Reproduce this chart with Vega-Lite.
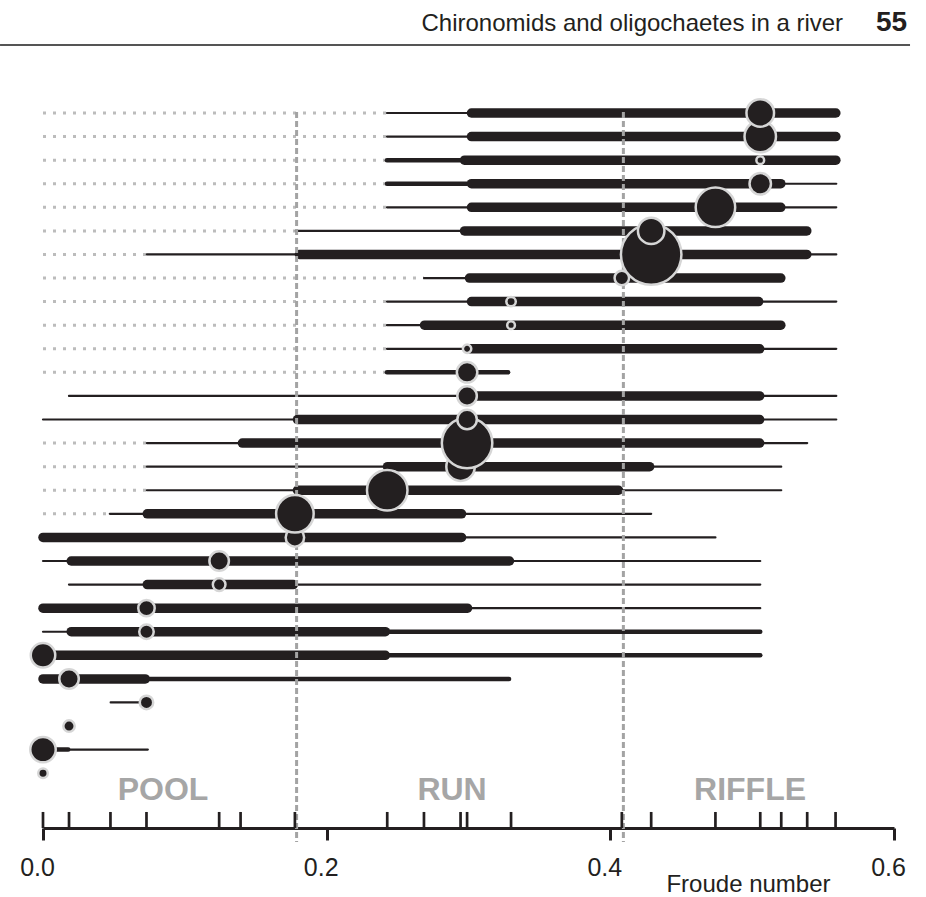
{
  "$schema": "https://vega.github.io/schema/vega-lite/v6.json",
  "width": 851,
  "height": 828,
  "autosize": {"type": "none"},
  "padding": {"left": 43, "right": 32, "top": 0, "bottom": 69},
  "background": "white",
  "config": {"view": {"stroke": null}, "font": "Liberation Sans"},
  "datasets": {
    "segs": [
      {"r":1,"t":"dotted","a":0,"b":0.2425},{"r":1,"t":"thin","a":0.2425,"b":0.2989},{"r":1,"t":"thick","a":0.3021,"b":0.559},
      {"r":2,"t":"dotted","a":0,"b":0.2425},{"r":2,"t":"thin","a":0.2425,"b":0.2989},{"r":2,"t":"thick","a":0.3021,"b":0.559},
      {"r":3,"t":"dotted","a":0,"b":0.2425},{"r":3,"t":"medium","a":0.2425,"b":0.2944},{"r":3,"t":"thick","a":0.2972,"b":0.559},
      {"r":4,"t":"dotted","a":0,"b":0.2425},{"r":4,"t":"medium","a":0.2425,"b":0.2989},{"r":4,"t":"thick","a":0.3021,"b":0.5202},{"r":4,"t":"thin","a":0.5205,"b":0.5593},
      {"r":5,"t":"dotted","a":0,"b":0.2425},{"r":5,"t":"thin","a":0.2425,"b":0.2989},{"r":5,"t":"thick","a":0.3021,"b":0.5202},{"r":5,"t":"thin","a":0.5205,"b":0.5593},
      {"r":6,"t":"dotted","a":0,"b":0.1783},{"r":6,"t":"thin","a":0.1783,"b":0.2944},{"r":6,"t":"thick","a":0.2972,"b":0.5385},
      {"r":7,"t":"dotted","a":0,"b":0.0732},{"r":7,"t":"thin","a":0.0732,"b":0.1776},{"r":7,"t":"thick","a":0.1808,"b":0.5385},{"r":7,"t":"thin","a":0.5388,"b":0.5593},
      {"r":8,"t":"dotted","a":0,"b":0.2686},{"r":8,"t":"thin","a":0.2686,"b":0.2975},{"r":8,"t":"thick","a":0.3007,"b":0.5202},
      {"r":9,"t":"dotted","a":0,"b":0.2425},{"r":9,"t":"thin","a":0.2425,"b":0.2989},{"r":9,"t":"thick","a":0.3021,"b":0.5046},{"r":9,"t":"thin","a":0.5057,"b":0.5593},
      {"r":10,"t":"dotted","a":0,"b":0.2425},{"r":10,"t":"thin","a":0.2425,"b":0.2658},{"r":10,"t":"thick","a":0.269,"b":0.5202},
      {"r":11,"t":"dotted","a":0,"b":0.2425},{"r":11,"t":"thin","a":0.2425,"b":0.2975},{"r":11,"t":"thick","a":0.3007,"b":0.5053},{"r":11,"t":"thin","a":0.5057,"b":0.5593},
      {"r":12,"t":"dotted","a":0,"b":0.2425},{"r":12,"t":"medium","a":0.2425,"b":0.3279},
      {"r":13,"t":"thin","a":0.0183,"b":0.2975},{"r":13,"t":"thick","a":0.3007,"b":0.5053},{"r":13,"t":"thin","a":0.5057,"b":0.5593},
      {"r":14,"t":"thin","a":0,"b":0.1762},{"r":14,"t":"thick","a":0.1794,"b":0.5053},{"r":14,"t":"thin","a":0.5057,"b":0.5593},
      {"r":15,"t":"dotted","a":0,"b":0.0732},{"r":15,"t":"thin","a":0.0732,"b":0.1374},{"r":15,"t":"thick","a":0.1406,"b":0.5053},{"r":15,"t":"thin","a":0.5057,"b":0.5388},
      {"r":16,"t":"dotted","a":0,"b":0.0732},{"r":16,"t":"thin","a":0.0732,"b":0.2397},{"r":16,"t":"thick","a":0.2429,"b":0.4277},{"r":16,"t":"thin","a":0.4288,"b":0.5205},
      {"r":17,"t":"dotted","a":0,"b":0.0732},{"r":17,"t":"thin","a":0.0732,"b":0.1762},{"r":17,"t":"thick","a":0.1794,"b":0.4058},{"r":17,"t":"thin","a":0.4081,"b":0.5205},
      {"r":18,"t":"dotted","a":0,"b":0.0471},{"r":18,"t":"thin","a":0.0471,"b":0.0703},{"r":18,"t":"thick","a":0.0735,"b":0.2951},{"r":18,"t":"thin","a":0.2951,"b":0.4288},
      {"r":19,"t":"thick","a":0,"b":0.2951},{"r":19,"t":"thin","a":0.2951,"b":0.4741},
      {"r":20,"t":"thin","a":0,"b":0.0167},{"r":20,"t":"thick","a":0.0199,"b":0.3289},{"r":20,"t":"thin","a":0.3289,"b":0.5057},
      {"r":21,"t":"thin","a":0.0183,"b":0.0703},{"r":21,"t":"thick","a":0.0735,"b":0.1765},{"r":21,"t":"thin","a":0.1765,"b":0.5057},
      {"r":22,"t":"thick","a":0,"b":0.2993},{"r":22,"t":"thin","a":0.2993,"b":0.5057},
      {"r":23,"t":"thin","a":0,"b":0.0167},{"r":23,"t":"thick","a":0.0199,"b":0.2414},{"r":23,"t":"medium","a":0.2414,"b":0.5057},
      {"r":24,"t":"thick","a":0,"b":0.2414},{"r":24,"t":"medium","a":0.2414,"b":0.5057},
      {"r":25,"t":"thick","a":0,"b":0.0721},{"r":25,"t":"medium","a":0.0721,"b":0.3286},
      {"r":26,"t":"thin","a":0.0477,"b":0.0727},
      {"r":28,"t":"medium","a":0,"b":0.0178},{"r":28,"t":"thin","a":0.0178,"b":0.0739}
    ],
    "circles": [
      {"r":29,"x":0,"n":9},{"r":28,"x":0,"n":65},{"r":27,"x":0.01835,"n":13},{"r":26,"x":0.07296,"n":18},
      {"r":25,"x":0.01835,"n":38},{"r":24,"x":0,"n":60},{"r":23,"x":0.07296,"n":21},{"r":22,"x":0.07296,"n":27},
      {"r":21,"x":0.1242,"n":16},{"r":20,"x":0.1242,"n":38},{"r":19,"x":0.1776,"n":34},{"r":18,"x":0.1776,"n":141},
      {"r":17,"x":0.2427,"n":164},{"r":16,"x":0.2944,"n":81},{"r":15,"x":0.299,"n":255},{"r":14,"x":0.299,"n":38},
      {"r":13,"x":0.299,"n":38},{"r":12,"x":0.299,"n":42},{"r":11,"x":0.299,"n":7},{"r":10,"x":0.33,"n":6},
      {"r":9,"x":0.33,"n":9},{"r":8,"x":0.4081,"n":21},{"r":7,"x":0.4288,"n":366},{"r":6,"x":0.4288,"n":70},
      {"r":5,"x":0.4741,"n":156},{"r":4,"x":0.5057,"n":46},{"r":3,"x":0.5057,"n":6},{"r":2,"x":0.5057,"n":99},{"r":1,"x":0.5057,"n":76}
    ],
    "rug": [
      {"x":0},{"x":0.01835},{"x":0.04756},{"x":0.07296},{"x":0.1242},{"x":0.1393},{"x":0.1776},{"x":0.2427},{"x":0.2686},
      {"x":0.2944},{"x":0.299},{"x":0.33},{"x":0.4081},{"x":0.4288},{"x":0.4741},{"x":0.5057},{"x":0.5205},{"x":0.5388},{"x":0.5588}
    ],
    "bounds": [{"x":0.1788},{"x":0.4092}],
    "zones": [{"label":"POOL","x":0.0846},{"label":"RUN","x":0.2884},{"label":"RIFFLE","x":0.4985}]
  },
  "layer": [
    {
      "data": {"name": "segs"},
      "transform": [{"filter": "datum.t == 'dotted'"}],
      "mark": {"type": "rule", "strokeDash": [3, 7], "strokeWidth": 3, "color": "#bcbcbc", "strokeCap": "butt"},
      "encoding": {
        "x": {"field": "a", "type": "quantitative", "scale": {"domain": [0, 0.6], "nice": false, "zero": false},
          "axis": {"values": [0, 0.2, 0.4, 0.6], "format": ".1f", "tickSize": 12, "tickWidth": 3, "tickColor": "#231f20",
            "domain": true, "domainWidth": 3, "domainColor": "#231f20", "labelFontSize": 25, "labelColor": "#231f20", "labelFont": "Liberation Sans",
            "labelOffset": -6, "labelPadding": 15, "labelFlush": false, "labelOverlap": false, "grid": false,
            "title": "Froude number", "titleFontSize": 24, "titleFontWeight": "normal", "titleColor": "#231f20", "titleFont": "Liberation Sans",
            "titleX": 705, "titleY": 63, "titleBaseline": "alphabetic", "titleAlign": "center"}},
        "x2": {"field": "b"},
        "y": {"field": "r", "type": "quantitative", "scale": {"domain": [-3.792, 31.324], "reverse": true, "nice": false, "zero": false}, "axis": null}
      }
    },
    {
      "data": {"name": "segs"},
      "transform": [{"filter": "datum.t != 'dotted'"}],
      "mark": {"type": "rule", "color": "#231f20", "strokeCap": "round"},
      "encoding": {
        "x": {"field": "a", "type": "quantitative"},
        "x2": {"field": "b"},
        "y": {"field": "r", "type": "quantitative"},
        "strokeWidth": {"field": "t", "type": "nominal", "scale": {"type": "ordinal", "domain": ["thin", "medium", "thick"], "range": [2.2, 4.5, 9.5]}, "legend": null}
      }
    },
    {
      "data": {"name": "bounds"},
      "mark": {"type": "rule", "strokeDash": [6, 3], "strokeWidth": 3, "color": "#a3a3a3"},
      "encoding": {
        "x": {"field": "x", "type": "quantitative"},
        "y": {"datum": 0.958},
        "y2": {"datum": 31.916}
      }
    },
    {
      "data": {"name": "circles"},
      "mark": {"type": "point", "shape": "circle", "filled": true, "fill": "#231f20", "stroke": "#d6d6d6", "strokeWidth": 2.5, "opacity": 1},
      "encoding": {
        "x": {"field": "x", "type": "quantitative"},
        "y": {"field": "r", "type": "quantitative"},
        "size": {"field": "n", "type": "quantitative", "scale": {"domain": [0, 400], "range": [0, 4000], "zero": true}, "legend": null}
      }
    },
    {
      "data": {"name": "rug"},
      "mark": {"type": "rule", "strokeWidth": 2.7, "color": "#231f20"},
      "encoding": {
        "x": {"field": "x", "type": "quantitative"},
        "y": {"datum": 30.644},
        "y2": {"datum": 31.324}
      }
    },
    {
      "data": {"name": "zones"},
      "mark": {"type": "text", "font": "Liberation Sans", "fontSize": 32, "fontWeight": "bold", "color": "#a6a6a6", "align": "center", "baseline": "alphabetic"},
      "encoding": {
        "x": {"field": "x", "type": "quantitative"},
        "y": {"datum": 30.135},
        "text": {"field": "label"}
      }
    },
    {
      "data": {"values": [{"label": "Chironomids and oligochaetes in a river"}]},
      "mark": {"type": "text", "font": "Liberation Sans", "fontSize": 24, "color": "#231f20", "align": "right", "baseline": "alphabetic"},
      "encoding": {
        "x": {"datum": 0.5641},
        "y": {"datum": -2.478},
        "text": {"field": "label"}
      }
    },
    {
      "data": {"values": [{"label": "55"}]},
      "mark": {"type": "text", "font": "Liberation Sans", "fontSize": 28, "fontWeight": "bold", "color": "#231f20", "align": "left", "baseline": "alphabetic"},
      "encoding": {
        "x": {"datum": 0.5873},
        "y": {"datum": -2.478},
        "text": {"field": "label"}
      }
    },
    {
      "data": {"values": [{"label": "header rule"}]},
      "mark": {"type": "rule", "strokeWidth": 2, "color": "#555555"},
      "encoding": {
        "x": {"datum": -0.0303},
        "x2": {"datum": 0.6113},
        "y": {"datum": -1.884}
      }
    }
  ]
}
